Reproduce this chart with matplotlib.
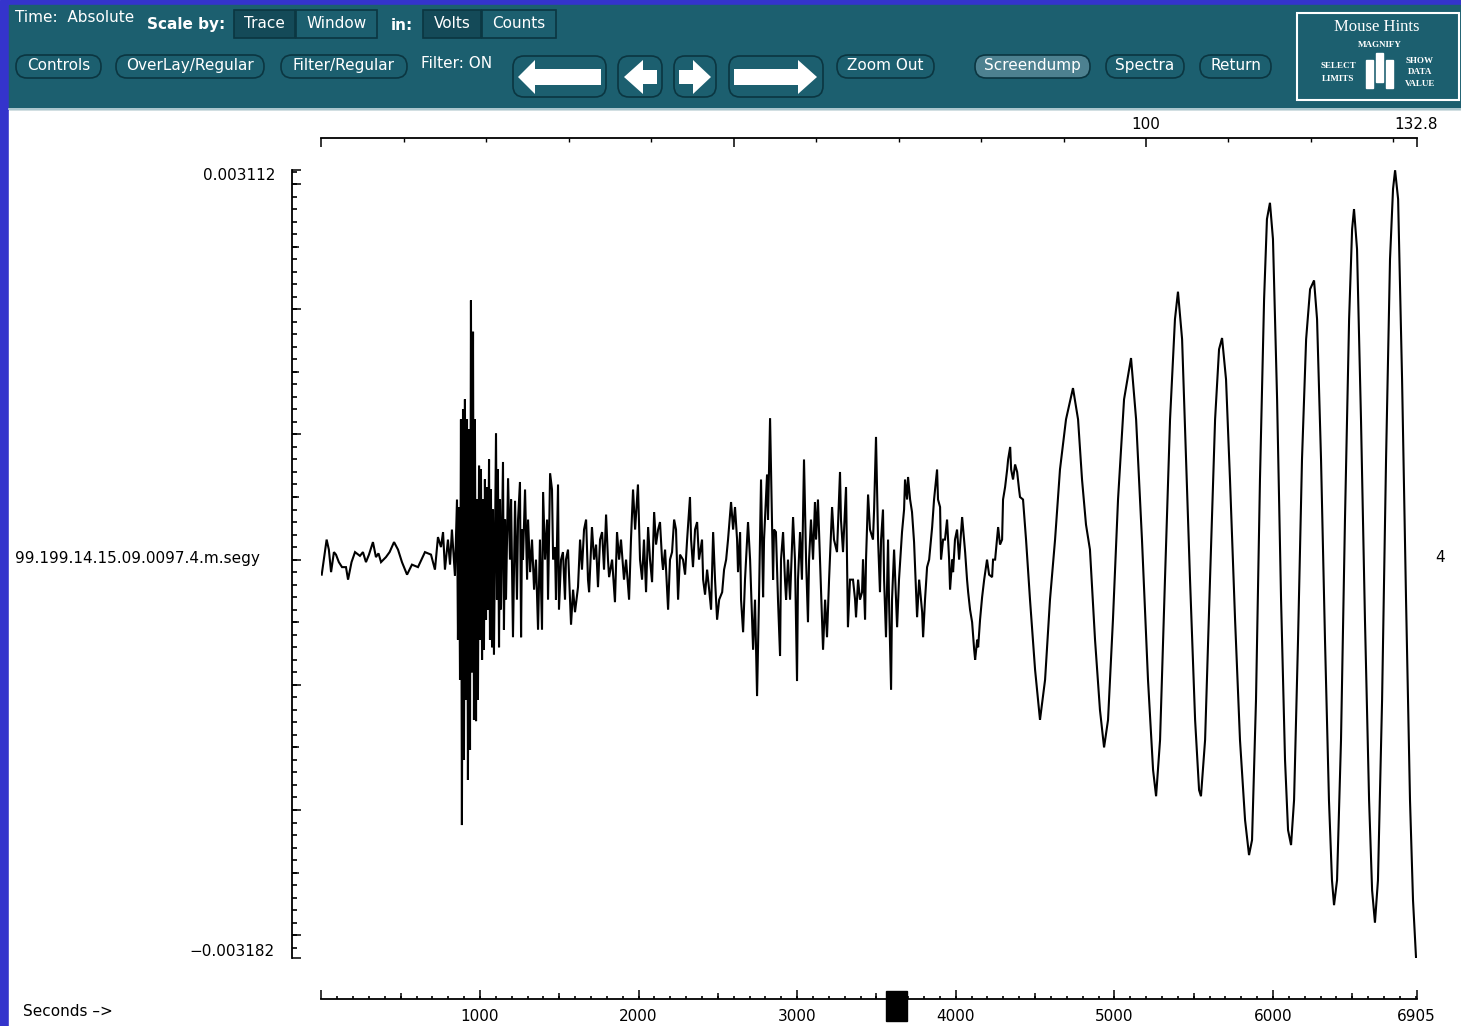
import matplotlib
matplotlib.use("Agg")
import matplotlib.pyplot as plt
import numpy as np
from matplotlib.patches import Rectangle, FancyBboxPatch, Polygon
from matplotlib.ticker import FixedFormatter, MultipleLocator, NullLocator

# trace, (seconds, millivolts)
pre_event = [(2, -0.12), (33, 0.16), (47, 0.08), (61, -0.10), (79, 0.06), (92, 0.04),
             (110, -0.02), (130, -0.06), (155, -0.06), (168, -0.16), (190, -0.02),
             (212, 0.06), (243, 0.03), (262, 0.06), (281, -0.02), (300, 0.04),
             (325, 0.14), (344, 0.02), (360, 0.05), (376, -0.02), (407, 0.02),
             (430, 0.06), (458, 0.14), (483, 0.08), (508, -0.02), (540, -0.12),
             (571, -0.04), (609, -0.06), (653, 0.06), (691, 0.04), (716, -0.08),
             (735, 0.18), (754, 0.10), (767, 0.22), (779, -0.08), (798, 0.16),
             (811, -0.04), (823, 0.24), (842, -0.13)]

p_burst = [(855, 0.48), (861, -0.64), (868, 0.42), (874, -0.96), (880, 1.12), (886, -2.12),
           (893, 1.20), (899, -1.60), (905, 1.28), (912, -1.12), (918, 1.12), (924, -1.76),
           (931, 1.04), (937, -1.52), (943, 2.07), (949, -0.90), (956, 1.82), (962, -1.28),
           (968, 1.12), (975, -1.29), (981, 0.48), (987, -1.12), (994, 0.75), (1000, -0.64),
           (1006, 0.72), (1013, -0.80), (1019, 0.48), (1025, -0.72), (1031, 0.64), (1038, -0.48),
           (1044, 0.58), (1050, -0.40), (1057, 0.80), (1063, -0.64), (1069, 0.56), (1076, -0.70),
           (1082, 0.40), (1088, -0.76), (1101, 1.01), (1107, -0.32), (1113, 0.72), (1120, -0.70),
           (1126, 0.48), (1132, -0.40), (1145, 0.78), (1151, -0.56), (1158, 0.32), (1164, -0.32),
           (1177, 0.65), (1189, 0.00), (1196, 0.48), (1208, -0.62), (1221, 0.47), (1233, -0.32),
           (1240, 0.32), (1252, 0.62), (1259, -0.62), (1265, 0.24), (1271, 0.00), (1284, 0.56),
           (1297, -0.16), (1303, 0.32), (1316, -0.10), (1328, 0.16), (1341, -0.24), (1353, 0.00),
           (1366, -0.56), (1378, 0.16), (1391, -0.56), (1398, 0.54)]

coda = [(1410, 0.00), (1423, 0.32), (1429, -0.32), (1442, 0.69), (1454, 0.56), (1461, 0.00),
        (1473, 0.10), (1479, -0.32), (1492, 0.60), (1498, -0.40), (1511, 0.00), (1523, 0.06),
        (1536, -0.32), (1542, 0.00), (1555, 0.08), (1574, -0.52), (1587, -0.24), (1599, -0.42),
        (1618, -0.22), (1631, 0.16), (1643, -0.08), (1656, 0.24), (1669, 0.32), (1681, -0.16),
        (1688, -0.26), (1706, 0.26), (1719, 0.00), (1732, 0.12), (1744, -0.22), (1757, 0.16),
        (1770, 0.22), (1782, -0.08), (1795, 0.36), (1807, 0.00), (1814, -0.14), (1833, 0.00),
        (1851, -0.34), (1864, 0.22), (1877, 0.00), (1889, 0.16), (1908, -0.16), (1921, 0.00),
        (1940, -0.32), (1952, 0.16), (1965, 0.56), (1978, 0.24), (1996, 0.60), (2009, 0.00),
        (2022, -0.16), (2034, 0.16), (2047, -0.26), (2060, 0.26), (2072, 0.00), (2085, -0.18),
        (2098, 0.38), (2110, 0.12), (2123, 0.24), (2135, 0.30), (2148, 0.00), (2154, -0.08),
        (2167, 0.08), (2186, -0.40), (2198, 0.00), (2211, 0.06), (2224, 0.32), (2236, 0.24),
        (2249, -0.32), (2261, 0.04), (2280, 0.00), (2293, -0.12), (2306, 0.16), (2324, 0.50),
        (2331, 0.16), (2343, -0.06), (2356, 0.24), (2369, 0.30), (2381, 0.00), (2400, 0.16),
        (2407, -0.16), (2419, -0.28), (2432, -0.08), (2445, -0.24), (2457, -0.40), (2470, 0.22),
        (2482, -0.16), (2495, -0.48), (2508, -0.32), (2527, -0.26), (2539, -0.08), (2552, 0.00),
        (2564, 0.16), (2583, 0.46), (2596, 0.24), (2608, 0.42), (2621, 0.16), (2627, -0.10),
        (2640, 0.22), (2646, -0.32), (2659, -0.58), (2671, -0.16), (2690, 0.30), (2703, 0.00),
        (2722, -0.72), (2734, -0.32), (2747, -1.09), (2759, -0.32), (2772, 0.64), (2785, -0.30),
        (2791, 0.16), (2810, 0.68), (2816, 0.32), (2829, 1.13), (2835, 0.72), (2848, -0.16),
        (2854, 0.24), (2866, 0.22), (2879, -0.32), (2892, -0.77), (2898, 0.00), (2911, 0.22),
        (2923, -0.16), (2930, -0.32), (2942, 0.00), (2955, -0.32), (2974, 0.34), (2986, 0.00),
        (2999, -0.97), (3005, -0.16), (3018, 0.22), (3030, -0.16), (3043, 0.80), (3056, 0.00),
        (3068, -0.50), (3075, 0.00), (3087, 0.32), (3100, 0.00), (3112, 0.46), (3119, 0.16),
        (3131, 0.48), (3144, 0.00), (3163, -0.72), (3176, -0.32), (3188, -0.62), (3201, -0.16),
        (3220, 0.42), (3232, 0.16), (3251, 0.06), (3270, 0.70), (3276, 0.32), (3289, 0.06),
        (3308, 0.58), (3320, -0.54), (3333, -0.16), (3352, -0.16), (3365, -0.32), (3371, -0.46),
        (3384, -0.16), (3396, -0.32), (3409, -0.26), (3415, 0.00), (3428, -0.48), (3434, 0.00),
        (3447, 0.52), (3459, 0.24), (3478, 0.16), (3485, 0.40), (3497, 0.98), (3510, 0.16),
        (3522, -0.26), (3529, 0.16), (3541, 0.40), (3548, -0.16), (3560, -0.62), (3573, 0.16),
        (3579, -0.32), (3592, -1.04), (3598, -0.32), (3611, 0.08), (3623, -0.32), (3630, -0.54),
        (3642, -0.16), (3661, 0.22), (3674, 0.40), (3680, 0.64), (3693, 0.48), (3699, 0.66),
        (3712, 0.48), (3724, 0.38), (3737, 0.14), (3756, -0.46), (3769, -0.16), (3788, -0.42),
        (3794, -0.62), (3806, -0.32), (3819, -0.06), (3832, 0.00), (3851, 0.26), (3863, 0.48),
        (3882, 0.72), (3888, 0.48), (3901, 0.42), (3907, 0.00), (3920, 0.16), (3932, 0.16),
        (3945, 0.32), (3958, 0.00), (3964, -0.24), (3977, 0.00), (3983, -0.10), (3995, 0.16),
        (4008, 0.24), (4021, 0.00), (4040, 0.34), (4052, 0.16), (4059, 0.06), (4071, -0.16),
        (4078, -0.26), (4090, -0.40), (4103, -0.50), (4116, -0.72), (4122, -0.80), (4135, -0.64),
        (4141, -0.70), (4153, -0.48), (4166, -0.30), (4179, -0.16), (4197, 0.00), (4210, -0.12),
        (4229, -0.14), (4235, 0.00), (4248, 0.00), (4260, 0.16), (4267, 0.26), (4279, 0.12),
        (4292, 0.16), (4298, 0.48), (4311, 0.58), (4324, 0.72), (4330, 0.80), (4343, 0.90),
        (4349, 0.72), (4361, 0.64), (4374, 0.76), (4387, 0.70), (4399, 0.56), (4405, 0.50)]

surface_waves = [(4424, 0.48), (4443, 0.16), (4468, -0.32), (4500, -0.88), (4531, -1.28),
                 (4563, -0.96), (4594, -0.32), (4626, 0.16), (4657, 0.72), (4695, 1.12),
                 (4739, 1.37), (4771, 1.12), (4796, 0.64), (4821, 0.28), (4846, 0.08),
                 (4878, -0.64), (4909, -1.20), (4935, -1.50), (4960, -1.28), (4991, -0.48),
                 (5023, 0.48), (5061, 1.28), (5105, 1.61), (5137, 1.12), (5174, 0.16),
                 (5212, -0.96), (5244, -1.68), (5263, -1.89), (5288, -1.44), (5319, -0.16),
                 (5351, 1.12), (5382, 1.92), (5401, 2.14), (5427, 1.76), (5452, 0.80),
                 (5477, -0.16), (5509, -1.28), (5534, -1.84), (5546, -1.89), (5572, -1.44),
                 (5603, -0.16), (5635, 1.12), (5660, 1.68), (5679, 1.77), (5704, 1.44),
                 (5729, 0.64), (5761, -0.48), (5792, -1.44), (5824, -2.08), (5849, -2.36),
                 (5868, -2.24), (5893, -1.12), (5918, 0.64), (5944, 2.08), (5962, 2.72),
                 (5981, 2.85), (6000, 2.56), (6026, 1.28), (6051, -0.32), (6076, -1.60),
                 (6095, -2.16), (6114, -2.28), (6133, -1.92), (6158, -0.64), (6183, 0.80),
                 (6209, 1.76), (6234, 2.16), (6259, 2.23), (6278, 1.92), (6303, 0.80),
                 (6328, -0.64), (6353, -1.92), (6372, -2.56), (6385, -2.76), (6404, -2.56),
                 (6429, -1.44), (6454, 0.32), (6480, 1.92), (6499, 2.64), (6511, 2.80),
                 (6530, 2.48), (6555, 1.12), (6580, -0.48), (6606, -1.92), (6625, -2.64),
                 (6643, -2.90), (6662, -2.56), (6688, -1.12), (6713, 0.80), (6738, 2.40),
                 (6757, 2.96), (6770, 3.11), (6789, 2.88), (6814, 1.44), (6839, -0.32),
                 (6864, -1.92), (6883, -2.72), (6902, -3.18)]

y_top = 0.003112
y_bottom = -0.003182
t_end = 6905
samples_end = 132.8
bottom_ticks = [0, 1000, 2000, 3000, 4000, 5000, 6000, 6905]
bottom_labels = ["", "1000", "2000", "3000", "4000", "5000", "6000", "6905"]
top_ticks = [0, 50, 100, 132.8]
top_labels = ["", "", "100", "132.8"]
trace_name = "99.199.14.15.09.0097.4.m.segy"
trace_number = "4"
marker_span = (3560, 3690)

TEAL = "#1c5f6f"
SEL = "#144a58"
DARK = "#0b3641"
BLUE = "#3434cc"
FONT = "DejaVu Sans"

W, H = 1461, 1026
fig = plt.figure(figsize=(W / 100, H / 100), dpi=100)

# ---- window chrome (pixel coords) ----
bg = fig.add_axes([0, 0, 1, 1], zorder=0)
bg.set_xlim(0, W)
bg.set_ylim(H, 0)
bg.axis("off")
bg.add_patch(Rectangle((0, 0), W, H, color=BLUE))
bg.add_patch(Rectangle((9, 110), W - 9, H - 110, color="white"))
bg.add_patch(Rectangle((9, 5), W - 9, 104, color=TEAL))
bg.plot([9, W], [109, 109], color="#c9dde2", lw=1.2)


def txt(x, y, s, size=11, **kw):
    kw.setdefault("color", "white")
    kw.setdefault("family", FONT)
    bg.text(x, y, s, fontsize=size, va="center", **kw)


def button(x0, x1, s=None, y0=55, y1=78, face=TEAL):
    bg.add_patch(FancyBboxPatch((x0, y0), x1 - x0, y1 - y0,
                                boxstyle="round,pad=0,rounding_size=11",
                                fc=face, ec=DARK, lw=1.2))
    if s:
        txt((x0 + x1) / 2, (y0 + y1) / 2 - 1, s, ha="center")


def toggle(x0, x1, s, selected):
    bg.add_patch(Rectangle((x0, 10), x1 - x0, 28, fc=SEL if selected else TEAL,
                           ec=DARK, lw=1.2))
    txt((x0 + x1) / 2, 24, s, ha="center")


txt(15, 18, "Time:  Absolute")
txt(147, 25, "Scale by:", weight="bold")
toggle(234, 295, "Trace", True)
toggle(296, 377, "Window", False)
txt(391, 25, "in:", weight="bold")
toggle(423, 481, "Volts", True)
toggle(482, 556, "Counts", False)

button(16, 101, "Controls")
button(116, 264, "OverLay/Regular")
button(281, 407, "Filter/Regular")
txt(421, 63, "Filter: ON")
button(837, 934, "Zoom Out")
button(975, 1090, "Screendump", face="#4d8190")
button(1106, 1184, "Spectra")
button(1200, 1271, "Return")

# arrow buttons
for x0, x1 in [(513, 606), (618, 662), (674, 716), (729, 823)]:
    button(x0, x1, y0=56, y1=97)
arrows = [
    [(518, 77), (535, 60), (535, 69), (601, 69), (601, 85), (535, 85), (535, 94)],
    [(624, 77), (643, 60), (643, 70), (657, 70), (657, 84), (643, 84), (643, 94)],
    [(711, 77), (693, 60), (693, 70), (679, 70), (679, 84), (693, 84), (693, 94)],
    [(817, 77), (798, 60), (798, 69), (734, 69), (734, 85), (798, 85), (798, 94)],
]
for pts in arrows:
    bg.add_patch(Polygon(pts, closed=True, fc="white", ec="none"))

# mouse hints box
bg.add_patch(Rectangle((1297, 13), 162, 87, fill=False, ec="white", lw=1.5))
txt(1377, 27, "Mouse Hints", size=12, family="Liberation Serif", ha="center")
txt(1380, 45, "MAGNIFY", size=6.5, family="Liberation Serif", weight="bold", ha="center")
txt(1338, 66, "SELECT", size=6.5, family="Liberation Serif", weight="bold", ha="center")
txt(1338, 79, "LIMITS", size=6.5, family="Liberation Serif", weight="bold", ha="center")
txt(1420, 61, "SHOW", size=6.5, family="Liberation Serif", weight="bold", ha="center")
txt(1420, 72, "DATA", size=6.5, family="Liberation Serif", weight="bold", ha="center")
txt(1420, 84, "VALUE", size=6.5, family="Liberation Serif", weight="bold", ha="center")
bg.add_patch(Rectangle((1366, 60), 7, 28, color="white"))
bg.add_patch(Rectangle((1376, 53), 7, 29, color="white"))
bg.add_patch(Rectangle((1386, 60), 7, 28, color="white"))

# labels around the trace
txt(275, 176, "0.003112", color="black", ha="right")
txt(275, 952, "\u22120.003182", color="black", ha="right")
txt(15, 558, trace_name, color="black")
txt(1440, 558, trace_number, color="black", ha="center")
txt(23, 1011, "Seconds \u2013>", color="black")

# ---- trace ----
ax_l, ax_b, ax_w, ax_h = 321.4, 958, 1095.1, 788
ax = fig.add_axes([ax_l / W, (H - ax_b) / H, ax_w / W, ax_h / H], zorder=2)
ax.patch.set_visible(False)

pts = np.array(pre_event + p_burst + coda + surface_waves, dtype=float)
t = pts[:, 0]
v = pts[:, 1] * 1e-3
ax.plot(t, v, color="black", lw=1.5, solid_joinstyle="miter")
ax.set_xlim(0, t_end)
ax.set_ylim(y_bottom, y_top)

left_pos = -29.7 / ax_w
bot_pos = -41 / ax_h
top_pos = 1 + 32.3 / ax_h

for s in ["top", "right"]:
    ax.spines[s].set_visible(False)
ax.spines["left"].set_position(("axes", left_pos))
ax.spines["bottom"].set_position(("axes", bot_pos))
for s in ["left", "bottom"]:
    ax.spines[s].set_linewidth(1.3)
ax.tick_params(left=False, bottom=False, labelleft=False, labelbottom=False)


# rulers: three tick lengths drawn as overlaid secondary axes
def ruler(orient, pos, ticks, length, labels=None, width=1.1):
    sec = ax.secondary_yaxis(pos) if orient == "y" else ax.secondary_xaxis(pos)
    axis = sec.yaxis if orient == "y" else sec.xaxis
    if orient == "y":
        sec.set_yticks(ticks)
    else:
        sec.set_xticks(ticks)
    axis.set_minor_locator(NullLocator())
    show = labels is not None
    if show:
        axis.set_major_formatter(FixedFormatter(labels))
    sec.tick_params(direction="in", length=length, width=width, labelsize=11,
                    labelleft=False, labelbottom=show, pad=7)
    for sp in sec.spines.values():
        sp.set_visible(False)
    for lab in axis.get_ticklabels():
        lab.set_family(FONT)
    return sec


y_fine = np.round(np.arange(-31, 32) * 0.0001, 6)
x_fine = np.arange(100, t_end, 100)
ruler("y", left_pos, y_fine, 3.4, width=1.2)
ruler("y", left_pos, [-0.0025, -0.0015, -0.0005, 0.0005, 0.0015, 0.0025], 5.0)
ruler("y", left_pos, [y_bottom, -0.003, -0.002, -0.001, 0, 0.001, 0.002, 0.003, y_top], 6.8)
ruler("x", bot_pos, x_fine, 2.4, width=1.2)
ruler("x", bot_pos, np.arange(500, t_end, 1000), 4.3)
ruler("x", bot_pos, bottom_ticks, 6.8, labels=bottom_labels)

# top ruler in samples
scale = samples_end / t_end
top = ax.secondary_xaxis(top_pos, functions=(lambda x: x * scale, lambda x: x / scale))
top.set_xticks(top_ticks)
top.xaxis.set_major_formatter(FixedFormatter(top_labels))
top.xaxis.set_minor_locator(MultipleLocator(10))
top.tick_params(which="major", direction="in", length=6.5, width=1.1, labelsize=11, pad=4)
top.tick_params(which="minor", direction="in", length=2.9, width=1.0)
top.spines["top"].set_linewidth(1.3)
for lab in top.get_xticklabels():
    lab.set_family(FONT)

# scroll position marker on the time ruler
ax.add_patch(Rectangle((marker_span[0], (ax_b - 1021) / ax_h), marker_span[1] - marker_span[0],
                       30 / ax_h, transform=ax.get_xaxis_transform(), color="black",
                       clip_on=False))

fig.savefig("out.png", dpi=100)
